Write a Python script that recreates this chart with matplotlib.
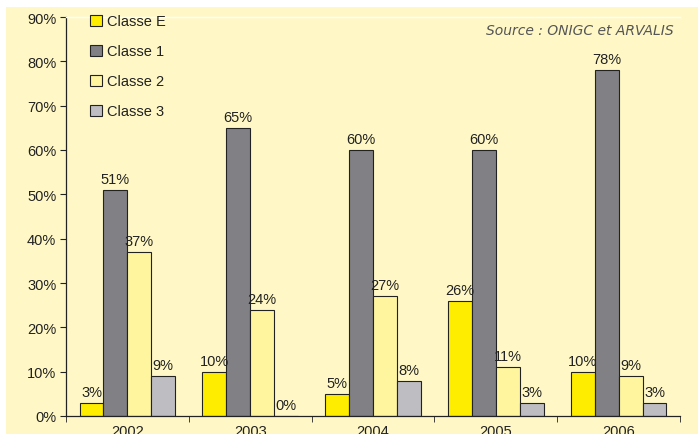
import matplotlib
matplotlib.use("Agg")
import matplotlib.pyplot as plt
import numpy as np
from matplotlib.patches import Rectangle

years = ["2002", "2003", "2004", "2005", "2006"]
series_names = ["Classe E", "Classe 1", "Classe 2", "Classe 3"]
classe_e = [3, 10, 5, 26, 10]
classe_1 = [51, 65, 60, 60, 78]
classe_2 = [37, 24, 27, 11, 9]
classe_3 = [9, 0, 8, 3, 3]
yticks = [0, 10, 20, 30, 40, 50, 60, 70, 80, 90]

colors = ["#FFED00", "#808085", "#FFF59F", "#BEBEC2"]
bg = "#FFF8C6"

plt.rcParams['font.family'] = ['Liberation Sans', 'DejaVu Sans']

W, H = 698, 435
fig = plt.figure(figsize=(W / 100, H / 100), dpi=100, facecolor="white")
bgrect = Rectangle((6 / W, 0), 1, 1 - 8 / H, transform=fig.transFigure,
                   facecolor=bg, edgecolor="none", zorder=-10)
fig.add_artist(bgrect)

ax = fig.add_axes([66 / W, (H - 417) / H, (680 - 66) / W, (417 - 18) / H])
ax.set_facecolor(bg)
ax.set_zorder(1)

x = np.arange(len(years))
width = 0.195
data = [classe_e, classe_1, classe_2, classe_3]
for i, (name, vals, c) in enumerate(zip(series_names, data, colors)):
    pos = x + (i - 1.5) * width
    ax.bar(pos, vals, width, color=c, edgecolor="#222222", linewidth=0.8,
           label=name, zorder=2)
    for p, v in zip(pos, vals):
        ax.text(p, v + 0.9, f"{v}%", ha="center", va="bottom", fontsize=10.5,
                color="#222222")

ax.set_xlim(-0.5, len(years) - 0.5)
ax.set_ylim(0, 90)
ax.set_yticks(yticks)
ax.set_yticklabels([f"{t}%" for t in yticks], fontsize=10.5, color="#222222")
ax.set_xticks(x)
ax.set_xticklabels(years, fontsize=10.5, color="#222222")
ax.tick_params(axis="x", length=0, pad=6)
ax.set_xticks(np.arange(-0.5, len(years), 1), minor=True)
ax.tick_params(axis="x", which="minor", length=4, direction="out", color="#222222")
ax.tick_params(axis="y", length=4, direction="out", color="#222222", pad=3)

ax.spines["right"].set_visible(False)
ax.spines["top"].set_color("white")
ax.spines["top"].set_linewidth(1.0)
ax.spines["left"].set_color("#222222")
ax.spines["bottom"].set_color("#222222")
ax.spines["left"].set_linewidth(0.9)
ax.spines["bottom"].set_linewidth(0.9)

leg = ax.legend(loc="upper left", bbox_to_anchor=(0.018, 1.04), frameon=False,
                fontsize=10.5, handlelength=0.8, handleheight=0.8,
                labelspacing=1.1, handletextpad=0.35)
for t in leg.get_texts():
    t.set_color("#222222")

ax.text(0.99, 0.985, "Source : ONIGC et ARVALIS", transform=ax.transAxes,
        ha="right", va="top", fontsize=10, style="italic", color="#555555",
        family=["DejaVu Sans"])

fig.savefig("out.png", dpi=100, facecolor="white")
